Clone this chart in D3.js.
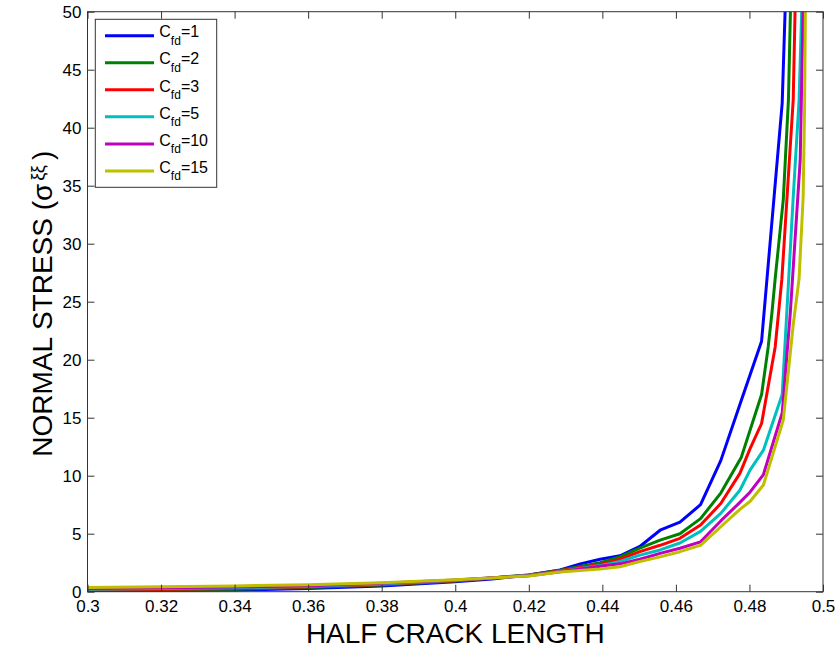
<!DOCTYPE html>
<html>
<head>
<meta charset="utf-8">
<script src="https://cdn.jsdelivr.net/npm/d3@7"></script>
<style>
  body { margin: 0; background: #fff; }
  svg { display: block; font-family: Arial, "Liberation Sans", sans-serif; }
</style>
</head>
<body>
<div id="chart"></div>
<script>
// half crack length / normal stress, one list of [x, y] per Cfd value
const cfdLabels = ['1', '2', '3', '5', '10', '15'];
const seriesColors = ['#0000ff', '#008000', '#ff0000', '#00bfbf', '#bf00bf', '#bfbf00'];

const cfd1 = [[0.30,0.05],[0.32,0.08],[0.34,0.14],[0.36,0.28],[0.38,0.5],[0.40,0.86],[0.41,1.1],[0.42,1.45],
  [0.4285,1.87],[0.434,2.4],[0.4394,2.8],[0.4448,3.1],[0.4502,3.9],[0.4557,5.3],[0.4611,6.0],[0.4667,7.5],
  [0.4722,11.3],[0.4778,16.5],[0.4833,21.6],[0.4889,42.1],[0.4944,97]];
const cfd2 = [[0.30,0.12],[0.32,0.16],[0.34,0.22],[0.36,0.36],[0.38,0.58],[0.40,0.92],[0.42,1.45],
  [0.4285,1.85],[0.4394,2.5],[0.4448,3.0],[0.4502,3.75],[0.4557,4.45],[0.4611,5.0],[0.4667,6.3],
  [0.4722,8.5],[0.4778,11.6],[0.4833,17.0],[0.4851,21.1],[0.4861,24],[0.487,27],[0.4892,33.8],[0.4906,42.4],[0.4915,55]];
const cfd3 = [[0.30,0.18],[0.32,0.22],[0.34,0.28],[0.36,0.42],[0.38,0.62],[0.40,0.95],[0.42,1.42],
  [0.4285,1.8],[0.4394,2.35],[0.4448,2.8],[0.4502,3.45],[0.4557,4.0],[0.4611,4.6],[0.4667,5.75],
  [0.4722,7.6],[0.4774,10.2],[0.4802,12.35],[0.4833,14.5],[0.487,21.1],[0.4888,26.9],[0.4919,42.4],[0.4924,50],[0.493,62]];
const cfd5 = [[0.30,0.22],[0.32,0.27],[0.34,0.34],[0.36,0.46],[0.38,0.66],[0.40,0.98],[0.42,1.4],
  [0.4285,1.75],[0.4394,2.25],[0.4448,2.6],[0.4502,3.15],[0.4557,3.6],[0.4611,4.2],[0.4667,5.2],
  [0.4722,6.75],[0.4774,8.75],[0.4802,10.5],[0.4838,12.2],[0.4889,17],[0.4905,26],[0.4919,34],[0.4935,42.4],[0.4942,50],[0.4946,60]];
const cfd10 = [[0.30,0.28],[0.32,0.33],[0.34,0.4],[0.36,0.52],[0.38,0.72],[0.40,1.0],[0.42,1.38],
  [0.4285,1.72],[0.4394,2.2],[0.4448,2.4],[0.4502,2.8],[0.4557,3.3],[0.4611,3.75],[0.4667,4.3],
  [0.4722,6.1],[0.4774,7.7],[0.4802,8.6],[0.4838,10.1],[0.4889,15.4],[0.4911,24],[0.4938,37.2],[0.4947,52]];
const cfd15 = [[0.30,0.36],[0.32,0.42],[0.34,0.5],[0.36,0.6],[0.38,0.78],[0.40,1.02],[0.42,1.35],
  [0.4285,1.7],[0.4394,1.95],[0.4448,2.15],[0.4502,2.6],[0.4557,3.0],[0.4611,3.45],[0.4667,4.0],
  [0.4722,5.6],[0.4774,7.1],[0.4802,7.8],[0.4838,9.2],[0.4892,14.8],[0.4919,23],[0.4935,27],[0.4946,34],
  [0.4950,42],[0.4952,50],[0.4954,60]];

const xTicks = [0.3, 0.32, 0.34, 0.36, 0.38, 0.4, 0.42, 0.44, 0.46, 0.48, 0.5];
const xTickLabels = ['0.3', '0.32', '0.34', '0.36', '0.38', '0.4', '0.42', '0.44', '0.46', '0.48', '0.5'];
const yTicks = [0, 5, 10, 15, 20, 25, 30, 35, 40, 45, 50];

const allSeries = [cfd1, cfd2, cfd3, cfd5, cfd10, cfd15];

const width = 835, height = 650;
const margin = { top: 11.7, right: 12, bottom: 58.3, left: 87.5 };
const axisColor = '#333';

const svg = d3.select('#chart').append('svg')
  .attr('width', width)
  .attr('height', height);

const x = d3.scaleLinear().domain([0.3, 0.5]).range([margin.left, width - margin.right]);
const y = d3.scaleLinear().domain([0, 50]).range([height - margin.bottom, margin.top]);

svg.append('defs').append('clipPath')
  .attr('id', 'plotClip')
  .append('rect')
  .attr('x', x(0.3))
  .attr('y', y(50))
  .attr('width', x(0.5) - x(0.3))
  .attr('height', y(0) - y(50));

// curves
const line = d3.line()
  .x(d => x(d[0]))
  .y(d => y(d[1]));

svg.append('g')
  .attr('clip-path', 'url(#plotClip)')
  .selectAll('path')
  .data(allSeries)
  .enter()
  .append('path')
  .attr('d', line)
  .attr('fill', 'none')
  .attr('stroke', (d, i) => seriesColors[i])
  .attr('stroke-width', 3)
  .attr('stroke-linejoin', 'round');

// axes, ticks pointing inward on all four sides
function styleAxis(g) {
  g.select('.domain').remove();
  g.selectAll('line').attr('stroke', axisColor);
  g.selectAll('text').attr('fill', '#000').attr('font-size', 17);
}

svg.append('g')
  .attr('transform', `translate(0,${y(0)})`)
  .call(d3.axisBottom(x).tickValues(xTicks).tickSizeInner(-7).tickSizeOuter(0).tickPadding(8)
    .tickFormat((d, i) => xTickLabels[i]))
  .call(styleAxis);

svg.append('g')
  .attr('transform', `translate(0,${y(50)})`)
  .call(d3.axisTop(x).tickValues(xTicks).tickSizeInner(-7).tickSizeOuter(0).tickFormat(''))
  .call(styleAxis);

svg.append('g')
  .attr('transform', `translate(${x(0.3)},0)`)
  .call(d3.axisLeft(y).tickValues(yTicks).tickSizeInner(-7).tickSizeOuter(0).tickPadding(6)
    .tickFormat(d3.format('d')))
  .call(styleAxis);

svg.append('g')
  .attr('transform', `translate(${x(0.5)},0)`)
  .call(d3.axisRight(y).tickValues(yTicks).tickSizeInner(-7).tickSizeOuter(0).tickFormat(''))
  .call(styleAxis);

svg.append('rect')
  .attr('x', x(0.3))
  .attr('y', y(50))
  .attr('width', x(0.5) - x(0.3))
  .attr('height', y(0) - y(50))
  .attr('fill', 'none')
  .attr('stroke', axisColor)
  .attr('stroke-width', 1);

// axis titles
svg.append('text')
  .attr('x', (x(0.3) + x(0.5)) / 2)
  .attr('y', 643)
  .attr('text-anchor', 'middle')
  .attr('font-size', 28)
  .attr('fill', '#000')
  .text('HALF CRACK LENGTH');

const yTitle = svg.append('text')
  .attr('transform', `translate(51.7,${(y(0) + y(50)) / 2 + 2}) rotate(-90)`)
  .attr('text-anchor', 'middle')
  .attr('font-size', 28)
  .attr('fill', '#000');
yTitle.append('tspan').text('NORMAL STRESS (σ');
yTitle.append('tspan').attr('font-size', 18).attr('dx', 3).attr('dy', -8).text('ξξ');
yTitle.append('tspan').attr('dx', 5).attr('dy', 8).text(')');

// legend
const legend = svg.append('g');
legend.append('rect')
  .attr('x', 95.3)
  .attr('y', 19.3)
  .attr('width', 121.4)
  .attr('height', 168)
  .attr('fill', '#fff')
  .attr('stroke', axisColor)
  .attr('stroke-width', 1);

const items = legend.selectAll('.item')
  .data(cfdLabels)
  .enter()
  .append('g')
  .attr('class', 'item')
  .attr('transform', (d, i) => `translate(0,${35.7 + i * 27.05})`);

items.append('line')
  .attr('x1', 105)
  .attr('x2', 154)
  .attr('stroke', (d, i) => seriesColors[i])
  .attr('stroke-width', 3);

const labels = items.append('text')
  .attr('x', 159.3)
  .attr('y', 1.7)
  .attr('font-size', 16)
  .attr('fill', '#000');
labels.append('tspan').text('C');
labels.append('tspan').attr('font-size', 12).attr('dy', 7.5).text('fd');
labels.append('tspan').attr('dy', -7.5).text(d => '=' + d);
</script>
</body>
</html>
